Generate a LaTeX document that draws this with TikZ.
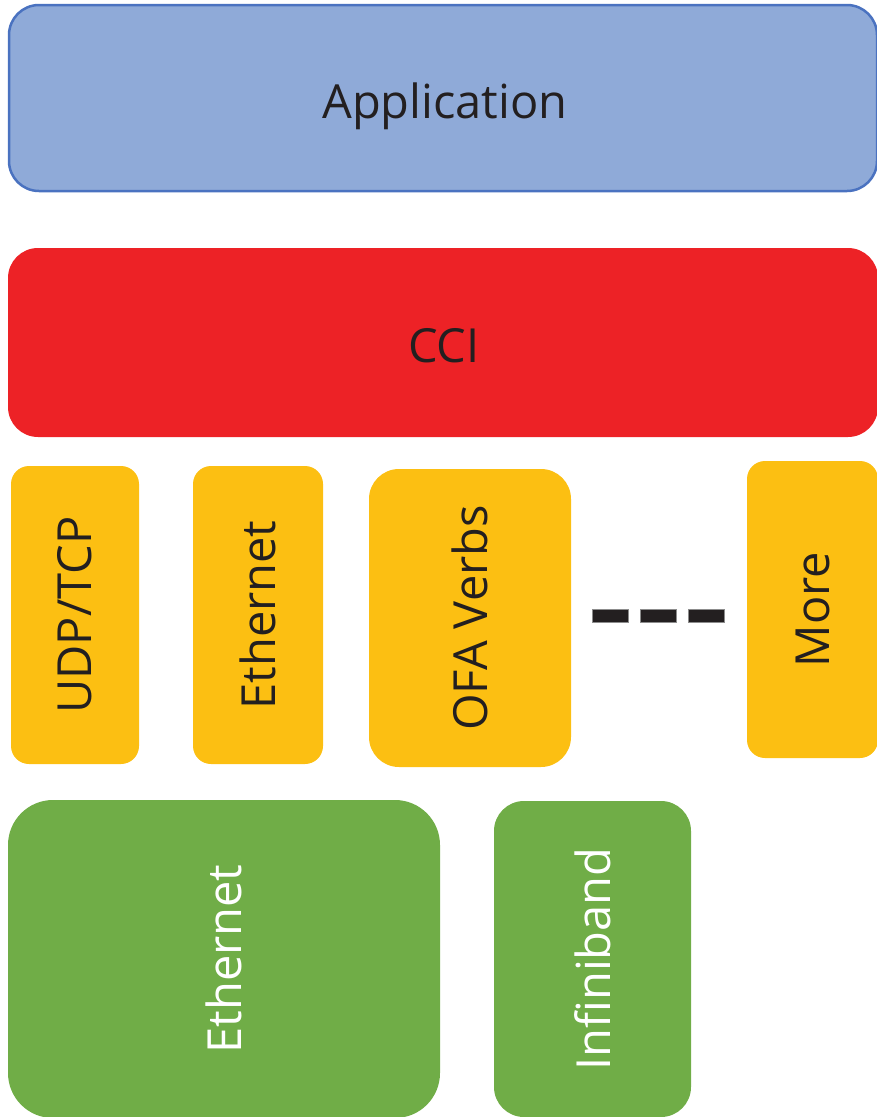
\documentclass[tikz,border=0pt]{standalone}
\usepackage{fontspec}
\setmainfont{Open Sans}
\definecolor{appfill}{HTML}{8FAAD8}
\definecolor{appline}{HTML}{4A72C0}
\definecolor{ccired}{HTML}{ED2226}
\definecolor{transyellow}{HTML}{FCBF12}
\definecolor{netgreen}{HTML}{70AD47}
\definecolor{inkdark}{HTML}{231F20}
\tikzset{
  layerbox/.style={rectangle, inner sep=0pt, outer sep=0pt},
  appbox/.style={layerbox, fill=appfill, draw=appline, line width=2.5pt, rounded corners=30pt},
  ccibox/.style={layerbox, fill=ccired, rounded corners=30pt},
  transbox/.style={layerbox, fill=transyellow},
  netbox/.style={layerbox, fill=netgreen},
  darktext/.style={text=inkdark, font=\fontsize{47}{56}\selectfont},
  whitetext/.style={text=white, font=\fontsize{47}{56}\selectfont},
  dashbar/.style={layerbox, fill=inkdark, draw=black!45, line width=0.6pt, minimum width=36pt, minimum height=13pt}
}
\begin{document}
\begin{tikzpicture}[x=1pt, y=-1pt]
\useasboundingbox (0,0) rectangle (876,1117);
% top layer
\node[appbox, minimum width=868pt, minimum height=186pt] (app) at (443,98) {};
\node[darktext] (apptext) at (445,106) {Application};
% middleware
\node[ccibox, minimum width=870pt, minimum height=189pt] (cci) at (443,342.5) {};
\node[darktext] (ccitext) at (444,346) {CCI};
% transports
\node[transbox, rounded corners=18pt, minimum width=128pt, minimum height=298pt] (udp) at (75,615) {};
\node[darktext, rotate=90] (udptext) at (udp.center) {UDP/TCP};
\node[transbox, rounded corners=18pt, minimum width=130pt, minimum height=298pt] (eth) at (258,615) {};
\node[darktext, rotate=90] (ethtext) at (eth.center) {Ethernet};
\node[transbox, rounded corners=30pt, minimum width=202pt, minimum height=298pt] (ofa) at (470,618) {};
\node[darktext, rotate=90] (ofatext) at (ofa.center) {OFA Verbs};
\node[transbox, rounded corners=18pt, minimum width=131pt, minimum height=297pt] (more) at (812.5,609.5) {};
\node[darktext, rotate=90] (moretext) at (more.center) {More};
% ellipsis between transports
\node[dashbar] (dashA) at (610,615.5) {};
\node[dashbar] (dashB) at (658,615.5) {};
\node[dashbar] (dashC) at (706,615.5) {};
% networks
\node[netbox, rounded corners=45pt, minimum width=432pt, minimum height=318pt] (neteth) at (224,959) {};
\node[whitetext, rotate=90] (netethtext) at (neteth.center) {Ethernet};
\node[netbox, rounded corners=30pt, minimum width=197pt, minimum height=316pt] (ib) at (592.5,959) {};
\node[whitetext, rotate=90] (ibtext) at (ib.center) {Infiniband};
\end{tikzpicture}
\end{document}
